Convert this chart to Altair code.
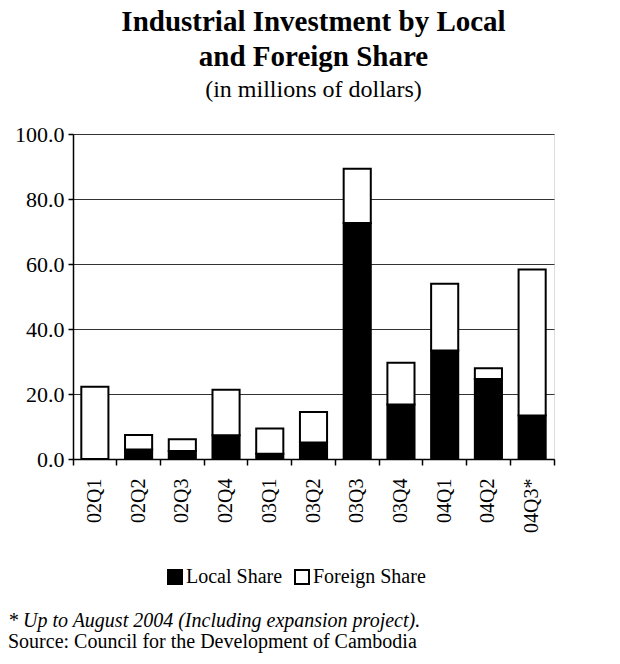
import altair as alt
import pandas as pd

quarters = ["02Q1", "02Q2", "02Q3", "02Q4", "03Q1", "03Q2", "03Q3", "03Q4", "04Q1", "04Q2", "04Q3*"]
local_share = [0.0, 2.9, 2.5, 7.3, 1.6, 5.1, 72.6, 16.8, 33.4, 24.6, 13.4]
foreign_share = [22.2, 4.5, 3.6, 14.0, 7.8, 9.4, 16.7, 12.8, 20.5, 3.3, 44.9]
series = ["Local Share", "Foreign Share"]
y_ticks = [0, 20, 40, 60, 80, 100]
footnote_1 = "* Up to August 2004 (Including expansion project)."
footnote_2 = "Source: Council for the Development of Cambodia"

rows = []
for i, q in enumerate(quarters):
    rows.append({"quarter": q, "series": series[0], "order": 0, "value": local_share[i]})
    rows.append({"quarter": q, "series": series[1], "order": 1, "value": foreign_share[i]})
df = pd.DataFrame(rows)

FONT = "'Liberation Serif', 'Times New Roman', Times, serif"

bars = alt.Chart(df).mark_bar(
    width=alt.RelativeBandSize(0.62), stroke="black", strokeWidth=2
).encode(
    x=alt.X("quarter:N", sort=quarters,
            scale=alt.Scale(paddingInner=0, paddingOuter=0),
            axis=alt.Axis(title=None, labelAngle=270, labelAlign="right", labelBaseline="middle",
                          labelFont=FONT, labelFontSize=20, labelColor="black", labelPadding=13,
                          tickSize=6, tickColor="black", tickWidth=1.5, bandPosition=1, tickExtra=True,
                          domainColor="black", domainWidth=1.5, grid=False)),
    y=alt.Y("value:Q", stack="zero",
            scale=alt.Scale(domain=[0, 100], nice=False),
            axis=alt.Axis(title=None, values=y_ticks, format=".1f", labelFont=FONT, labelFontSize=22,
                          labelColor="black", labelPadding=4, tickSize=5, tickColor="black", tickWidth=1.5,
                          domainColor="black", domainWidth=1.5, grid=True, gridColor="#333333",
                          gridWidth=1)),
    color=alt.Color("series:N", sort=series,
                    scale=alt.Scale(domain=series, range=["black", "white"]),
                    legend=alt.Legend(title=None, orient="none", legendX=92, legendY=433,
                                      direction="horizontal", symbolType="square", symbolSize=196,
                                      symbolStrokeColor="black", symbolStrokeWidth=2,
                                      labelFont=FONT, labelFontSize=20, labelColor="black",
                                      labelOffset=1, columnPadding=8)),
    order=alt.Order("order:Q"),
)

fn1 = alt.Chart(pd.DataFrame({"t": [footnote_1]})).mark_text(
    font=FONT, fontSize=20, fontStyle="italic", align="left", baseline="alphabetic", color="black"
).encode(x=alt.value(-65), y=alt.value(493), text="t:N")

fn2 = alt.Chart(pd.DataFrame({"t": [footnote_2]})).mark_text(
    font=FONT, fontSize=20, align="left", baseline="alphabetic", color="black"
).encode(x=alt.value(-65), y=alt.value(514), text="t:N")

chart = alt.layer(bars, fn1, fn2).properties(
    width=481, height=325,
    autosize=alt.AutoSizeParams(type="none"),
    padding={"left": 65, "top": 126, "right": 50, "bottom": 197},
    title=alt.Title(text=["Industrial Investment by Local", "and Foreign Share"],
                    subtitle="(in millions of dollars)",
                    font=FONT, fontSize=29, fontWeight="bold", color="black",
                    subtitleFont=FONT, subtitleFontSize=24, subtitleColor="black",
                    anchor="middle", lineHeight=35, subtitlePadding=6, offset=21),
).configure_view(stroke="#808080", strokeWidth=2).configure(background="white")

chart.save("out.html", embed_options={"renderer": "svg", "actions": False})
